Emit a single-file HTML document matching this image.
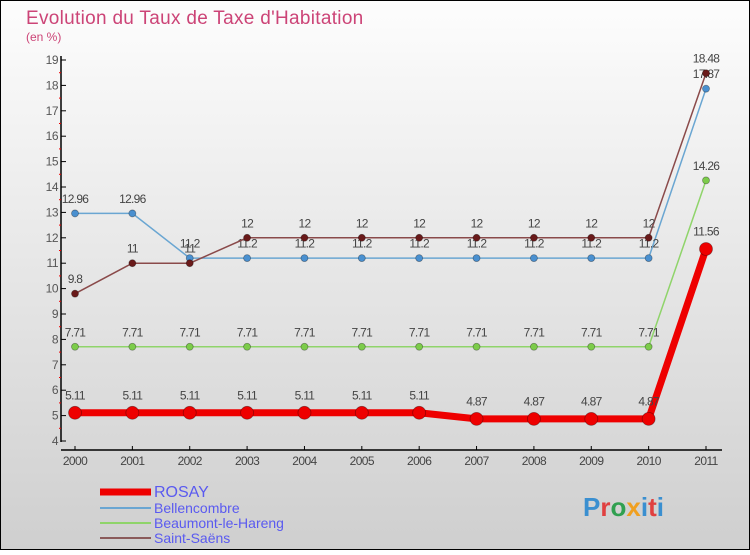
<!DOCTYPE html>
<html><head><meta charset="utf-8"><style>
body{margin:0;width:750px;height:550px;overflow:hidden;font-family:"Liberation Sans",sans-serif}
</style></head><body>
<svg width="750" height="550" xmlns="http://www.w3.org/2000/svg" id="chart">
<defs><linearGradient id="bg" x1="0" y1="0" x2="0" y2="1"><stop offset="0" stop-color="#fdfdfd"/><stop offset="1" stop-color="#cfcfcf"/></linearGradient></defs>
<rect x="0.5" y="0.5" width="749" height="549" fill="url(#bg)" stroke="#000"/>
<text x="26" y="24" font-size="19" fill="#cc4477" letter-spacing="0.3">Evolution du Taux de Taxe d'Habitation</text>
<text x="26" y="41" font-size="12" fill="#cc4477">(en %)</text>
<g id="axes"></g><g id="series"></g><g id="legend"></g>
<text x="583" y="516" font-size="26" font-weight="bold" fill="#3a8fd0">P<tspan fill="#e04040">r</tspan><tspan fill="#30a050">o</tspan><tspan fill="#f0a020">x</tspan>i<tspan fill="#e04040">t</tspan>i</text>
</svg>
<script>
const years=["2000","2001","2002","2003","2004","2005","2006","2007","2008","2009","2010","2011"];
const yTicks=[4,5,6,7,8,9,10,11,12,13,14,15,16,17,18,19];
const rosay=[5.11,5.11,5.11,5.11,5.11,5.11,5.11,4.87,4.87,4.87,4.87,11.56];
const bellencombre=[12.96,12.96,11.2,11.2,11.2,11.2,11.2,11.2,11.2,11.2,11.2,17.87];
const beaumont=[7.71,7.71,7.71,7.71,7.71,7.71,7.71,7.71,7.71,7.71,7.71,14.26];
const saintSaens=[9.8,11,11,12,12,12,12,12,12,12,12,18.48];
const NS="http://www.w3.org/2000/svg";
const X=i=>75+i*(706-75)/11;
const Y=v=>441-(v-4)*(381/15);
function mk(t,a,p){const e=document.createElementNS(NS,t);for(const k in a)e.setAttribute(k,a[k]);p.appendChild(e);return e;}
const ax=document.getElementById('axes');
let l=mk('line',{x1:61,y1:56,x2:61,y2:442,stroke:'#000','stroke-width':1.5},ax);


l=mk('line',{x1:61,y1:450,x2:722,y2:450,stroke:'#000','stroke-width':1.5},ax);


yTicks.forEach(v=>{
 mk('line',{x1:61,y1:Y(v),x2:66,y2:Y(v),stroke:'#000'},ax);
 if(v<19)mk('line',{x1:59,y1:Y(v+0.5),x2:61,y2:Y(v+0.5),stroke:'#e00'},ax);
 const t=mk('text',{x:58,y:Y(v)+4,'font-size':12,fill:'#555','text-anchor':'end','letter-spacing':'-0.5'},ax);t.textContent=v;
 
 
});
years.forEach((y,i)=>{
 mk('line',{x1:X(i),y1:446,x2:X(i),y2:450,stroke:'#000'},ax);
 const t=mk('text',{x:X(i),y:465,'font-size':12,fill:'#444','text-anchor':'middle','letter-spacing':'-0.6'},ax);t.textContent=y;
 
 
});
const sg=document.getElementById('series');
function draw(name,data,color,w,r,fill){
 const g=mk('g',{},sg);
 
 
 const pl=mk('polyline',{points:data.map((v,i)=>X(i)+','+Y(v)).join(' '),fill:'none',stroke:color,'stroke-width':w},g);
 
 
 data.forEach((v,i)=>{
  const c=mk('circle',{cx:X(i),cy:Y(v),r:r,fill:fill,stroke:'rgba(0,0,0,0.35)','stroke-width':0.8},g);
  
  
  const t=mk('text',{x:X(i),y:Y(v)-(r+7),'font-size':12,fill:'#444','text-anchor':'middle','letter-spacing':'-0.7'},g);t.textContent=v;
  
  
 });
}
draw('beaumont',beaumont,'#8fd46a',1.5,3.5,'#7ccc4a');
draw('bellencombre',bellencombre,'#6aa6d2',1.5,3.5,'#4a90d0');
draw('saint-saens',saintSaens,'#8a4a4a',1.5,3.5,'#6a1a1a');
draw('rosay',rosay,'#ee0000',7,6.5,'#ee0000');
const lg=document.getElementById('legend');
const items=[["ROSAY","#ee0000",7,16],["Bellencombre","#6aa6d2",2,12],["Beaumont-le-Hareng","#8fd46a",2,12],["Saint-Saëns","#8a5a5a",2,12]];
const ly=[492,508,523,538];
items.forEach((it,i)=>{
 const g=mk('g',{},lg);
 
 
 mk('line',{x1:100,y1:ly[i],x2:151,y2:ly[i],stroke:it[1],'stroke-width':it[2]},g);
 const t=mk('text',{x:154,y:ly[i]+5,'font-size':it[3]+(i==0?0:2),fill:'#5a5af0'},g);t.textContent=it[0];
 
 
});
</script>
</body></html>
